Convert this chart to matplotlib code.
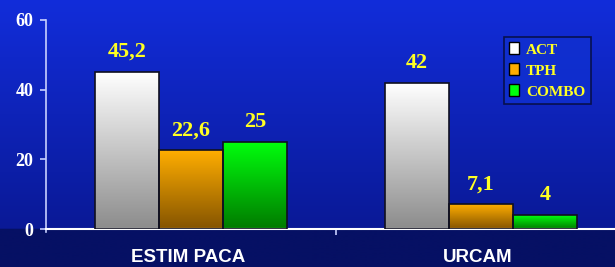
import numpy as np
import matplotlib
matplotlib.use("Agg")
import matplotlib.pyplot as plt
from matplotlib.patches import Patch
from matplotlib.colors import LinearSegmentedColormap

categories = ["ESTIM PACA", "URCAM"]
series = ["ACT", "TPH", "COMBO"]
values = {
    "ACT": [45.2, 42],
    "TPH": [22.6, 7.1],
    "COMBO": [25, 4],
}
labels = {
    "ACT": ["45,2", "42"],
    "TPH": ["22,6", "7,1"],
    "COMBO": ["25", "4"],
}
yticks = [0, 20, 40, 60]

top_cols = {"ACT": (1.0, 1.0, 1.0), "TPH": (1.0, 0.68, 0.0), "COMBO": (0.0, 1.0, 0.05)}
bot_cols = {"ACT": (0.55, 0.55, 0.55), "TPH": (0.52, 0.33, 0.0), "COMBO": (0.0, 0.48, 0.0)}

W, H = 615, 267
fig = plt.figure(figsize=(W / 100, H / 100), dpi=100)

# background gradient
bg = fig.add_axes([0, 0, 1, 1], zorder=-10)
bg.set_axis_off()
ys = np.linspace(0, 1, 300)
axis_frac = 229 / H
img = np.zeros((300, 1, 3))
for i, y in enumerate(ys):
    if y < axis_frac:
        t = y / axis_frac
        c0 = np.array([18, 45, 218]) / 255
        c1 = np.array([10, 25, 150]) / 255
        img[i, 0] = c0 * (1 - t) + c1 * t
    else:
        img[i, 0] = np.array([6, 16, 100]) / 255
bg.imshow(img, aspect="auto", extent=[0, 1, 0, 1], interpolation="bilinear")
bg.set_xlim(0, 1)
bg.set_ylim(0, 1)

left = 46 / W
right_px = 626
bottom = (H - 229) / H
height = 209 / H
ax = fig.add_axes([left, bottom, (right_px - 46) / W, height])
ax.patch.set_alpha(0)

x = np.arange(len(categories))
bw = 0.22
offsets = [-bw, 0, bw]
for s, off in zip(series, offsets):
    bars = ax.bar(x + off, values[s], width=bw, color="none", edgecolor="#101020",
                  linewidth=1.2, zorder=3)
    cmap = LinearSegmentedColormap.from_list(s, [bot_cols[s], top_cols[s]])
    for b, lab in zip(bars, labels[s]):
        bx, by = b.get_x(), b.get_y()
        bwid, bh = b.get_width(), b.get_height()
        grad = np.linspace(1, 0, 100).reshape(-1, 1)
        im = ax.imshow(grad, cmap=cmap, aspect="auto", extent=[bx, bx + bwid, by, by + bh],
                       zorder=2, vmin=0, vmax=1, interpolation="bilinear")
        im.set_clip_path(b)
        ax.annotate(lab, (bx + bwid / 2, bh), xytext=(0, 7), textcoords="offset points",
                    ha="center", va="bottom", color="#ffff22", fontsize=16,
                    fontweight="bold", family="Liberation Serif", zorder=5)

ax.set_xlim(-0.5, 1.5)
ax.set_ylim(0, 60)
ax.set_yticks(yticks)
ax.set_yticklabels([str(v) for v in yticks], color="white", fontsize=13,
                   fontweight="bold", family="Liberation Serif")
ax.set_xticks([0.5])
ax.set_xticklabels([""])
ax.tick_params(axis="x", length=4, color="#c8d0ff", width=1.2, direction="out")
ax.tick_params(axis="y", length=4, color="#c8d0ff", width=1.2, pad=5)
for c, xi in zip(categories, x):
    ax.text(xi - 0.01, -0.095, c, transform=ax.get_xaxis_transform(), ha="center", va="top",
            color="white", fontsize=13.5, fontweight="bold", family="Liberation Sans")
for sp in ["top", "right"]:
    ax.spines[sp].set_visible(False)
ax.spines["left"].set_color("#c8d0ff")
ax.spines["left"].set_linewidth(1.2)
ax.spines["bottom"].set_color("white")
ax.spines["bottom"].set_linewidth(1.5)
ax.spines["left"].set_bounds(-1, 60)

handles = [Patch(facecolor=top_cols[s], edgecolor="black", label=s) for s in series]
leg = ax.legend(handles=handles, loc="upper left",
                bbox_to_anchor=((504 - 46) / (right_px - 46), (229 - 37) / 209),
                borderaxespad=0, frameon=True, fancybox=False, handlelength=0.6,
                handleheight=0.8, handletextpad=0.5, borderpad=0.35, labelspacing=0.45,
                prop={"family": "Liberation Serif", "weight": "bold", "size": 11})
leg.get_frame().set_facecolor("#1030d0")
leg.get_frame().set_edgecolor("#050a30")
leg.get_frame().set_linewidth(1.2)
for t in leg.get_texts():
    t.set_color("#ffff22")

fig.savefig("out.png", dpi=100)
